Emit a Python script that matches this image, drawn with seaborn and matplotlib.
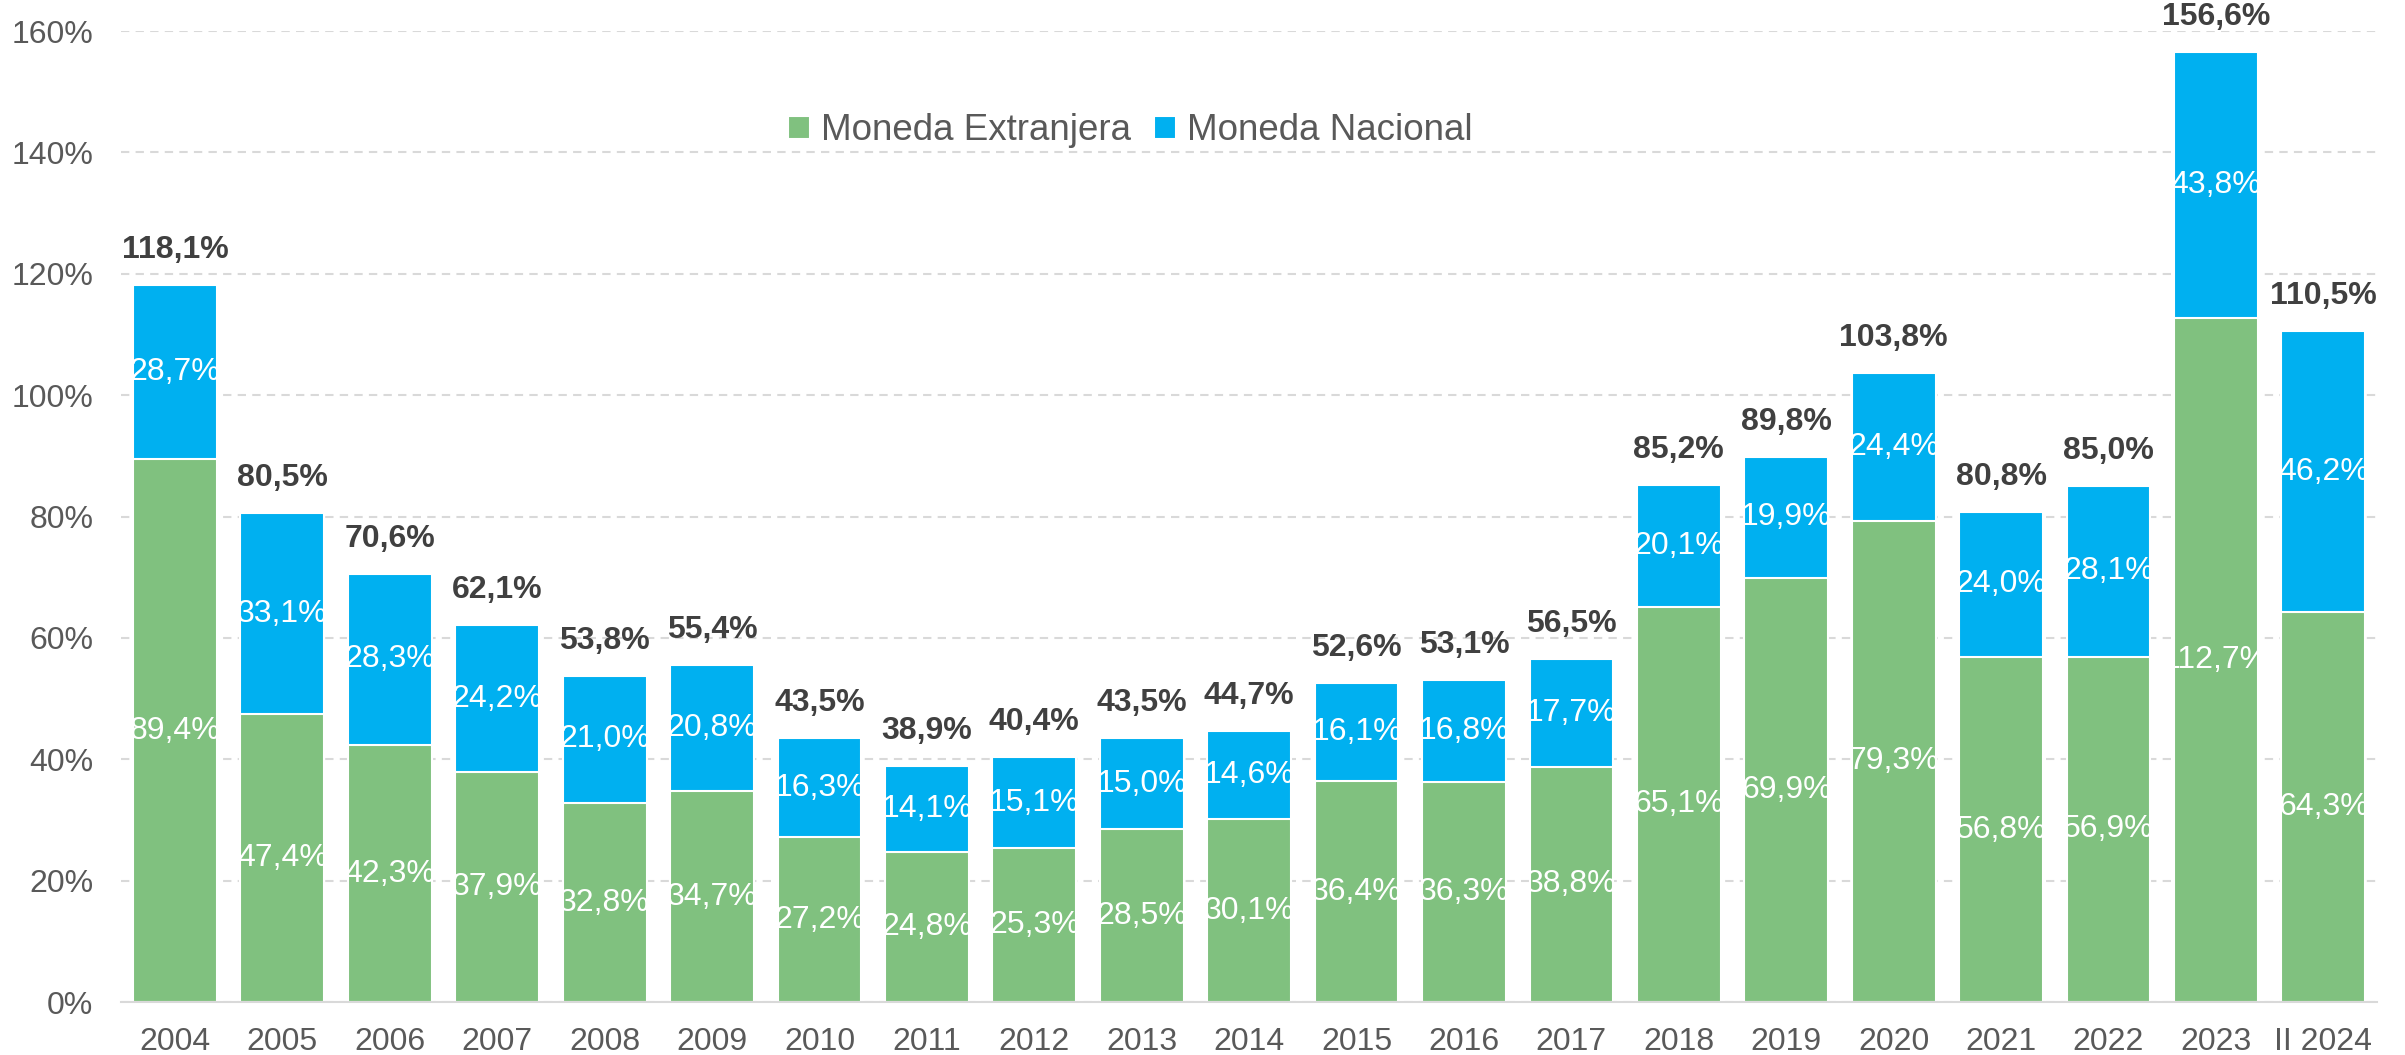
import pandas as pd
import numpy as np
import matplotlib.pyplot as plt
import seaborn as sns

years = ['2004', '2005', '2006', '2007', '2008', '2009', '2010', '2011', '2012', '2013', '2014',
         '2015', '2016', '2017', '2018', '2019', '2020', '2021', '2022', '2023', 'II 2024']
extranjera = [89.4, 47.4, 42.3, 37.9, 32.8, 34.7, 27.2, 24.8, 25.3, 28.5, 30.1,
              36.4, 36.3, 38.8, 65.1, 69.9, 79.3, 56.8, 56.9, 112.7, 64.3]
nacional = [28.7, 33.1, 28.3, 24.2, 21.0, 20.8, 16.3, 14.1, 15.1, 15.0, 14.6,
            16.1, 16.8, 17.7, 20.1, 19.9, 24.4, 24.0, 28.1, 43.8, 46.2]
total = [118.1, 80.5, 70.6, 62.1, 53.8, 55.4, 43.5, 38.9, 40.4, 43.5, 44.7,
         52.6, 53.1, 56.5, 85.2, 89.8, 103.8, 80.8, 85.0, 156.6, 110.5]

green = '#80C17F'
blue = '#00B0F0'

def fmt(v):
    return f'{v:.1f}'.replace('.', ',') + '%'

df = pd.DataFrame({'year': years, 'me': extranjera, 'mn': nacional, 'total': total})
df['top'] = df['me'] + df['mn']

sns.set_style('white')
plt.rcParams['font.family'] = ['Liberation Sans', 'DejaVu Sans']

fig = plt.figure(figsize=(24.05, 10.55), dpi=100)
ax = fig.add_axes([0.0504, 0.0502, 0.938, 0.9204])

sns.barplot(data=df, x='year', y='top', color=blue, saturation=1, width=0.78,
            edgecolor='white', linewidth=1.5, ax=ax, label='Moneda Nacional')
sns.barplot(data=df, x='year', y='me', color=green, saturation=1, width=0.78,
            edgecolor='white', linewidth=1.5, ax=ax, label='Moneda Extranjera')

blue_bars = ax.patches[:len(years)]
green_bars = ax.patches[len(years):]

# labels inside segments are clipped to the bar, like the original
for i in range(len(years)):
    t = ax.text(i, df['me'][i] / 2, fmt(df['me'][i]), ha='center', va='center',
                color='white', fontsize=23)
    t.set_clip_path(green_bars[i])
    t = ax.text(i, df['me'][i] + df['mn'][i] / 2, fmt(df['mn'][i]), ha='center', va='center',
                color='white', fontsize=23)
    t.set_clip_path(blue_bars[i])
    ax.text(i, df['top'][i] + 3.3, fmt(df['total'][i]), ha='center', va='bottom',
            color='#404040', fontsize=23, fontweight='bold', clip_on=False)

ax.set_xlim(-0.5, len(years) - 0.5)
ax.set_ylim(0, 160)
ax.set_yticks(np.arange(0, 161, 20))
ax.set_yticklabels([f'{v}%' for v in range(0, 161, 20)])
ax.yaxis.grid(True, linestyle=(0, (4, 3)), color='#d9d9d9', linewidth=1.5)
ax.set_axisbelow(True)
ax.tick_params(axis='both', labelsize=23, colors='#595959', length=0)
ax.tick_params(axis='x', pad=18)
ax.tick_params(axis='y', pad=20)
ax.set_xlabel('')
ax.set_ylabel('')
for s in ['top', 'right', 'left']:
    ax.spines[s].set_visible(False)
ax.spines['bottom'].set_color('#d9d9d9')
ax.spines['bottom'].set_linewidth(1.5)

handles, labels = ax.get_legend_handles_labels()
order = [labels.index('Moneda Extranjera'), labels.index('Moneda Nacional')]
ax.legend([handles[k] for k in order], [labels[k] for k in order],
          loc='center', bbox_to_anchor=(0.47, 0.876), bbox_transform=fig.transFigure,
          ncol=2, frameon=False, fontsize=26.5, labelcolor='#595959',
          handlelength=0.6, handleheight=0.6, handletextpad=0.3, columnspacing=0.6)

fig.savefig('out.png', dpi=100)
